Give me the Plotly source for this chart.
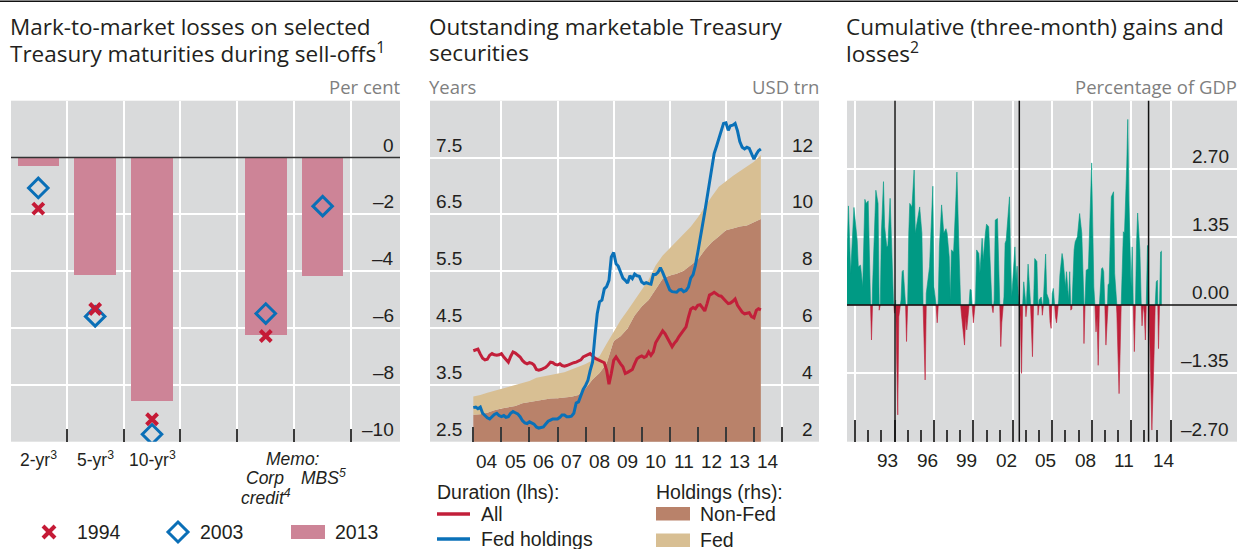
import numpy as np
import pandas as pd
import plotly.graph_objects as go

W, H = 1238, 549

# ---------------- Panel 1: mark-to-market losses ----------------
p1_categories = ["2-yr", "5-yr", "10-yr", "blank1", "Corp credit", "MBS", "blank2"]
p1_bar_cats = ["2-yr", "5-yr", "10-yr", "Corp credit", "MBS"]
p1_2013 = [-0.27, -4.12, -8.55, -6.24, -4.15]
p1_1994 = [-1.80, -5.33, -9.21, -6.28, None]
p1_2003 = [-1.07, -5.59, -9.74, -5.49, -1.71]
p1_yticks = [0, -2, -4, -6, -8, -10]
p1_yticktext = ["0", "–2", "–4", "–6", "–8", "–10"]

# ---------------- Panel 2: outstanding marketable Treasuries ----------------
p2_start_month = "2004-01-01"
p2_dur_all = [4.10, 4.12, 4.13, 4.04, 3.97, 3.94, 3.95, 4.02, 4.05, 4.03, 4.02, 4.03,
              4.05, 3.99, 3.94, 3.90, 4.00, 4.08, 4.06, 4.03, 3.99, 3.93, 3.89, 3.87,
              3.89, 3.88, 3.85, 3.77, 3.76, 3.77, 3.79, 3.81, 3.85, 3.90, 3.89, 3.86,
              3.85, 3.87, 3.84, 3.83, 3.84, 3.86, 3.87, 3.89, 3.90, 3.92, 3.94, 3.99,
              4.01, 4.03, 4.05, 4.01, 3.97, 3.95, 3.93, 3.92, 3.89, 3.76, 3.51, 3.70,
              3.93, 3.99, 3.92, 3.87, 3.82, 3.70, 3.72, 3.75, 3.77, 3.87, 3.96, 3.99,
              4.01, 3.98, 4.00, 4.08, 4.02, 4.08, 4.24, 4.31, 4.39, 4.45, 4.40, 4.33,
              4.25, 4.17, 4.23, 4.28, 4.35, 4.41, 4.47, 4.52, 4.69, 4.83, 4.86, 4.84,
              4.90, 4.91, 4.86, 4.80, 4.93, 5.08, 5.10, 5.13, 5.10, 5.07, 5.06, 5.01,
              4.97, 4.93, 4.94, 4.97, 5.01, 4.90, 4.83, 4.78, 4.75, 4.76, 4.77, 4.70,
              4.68, 4.81, 4.84, 4.82]
p2_dur_fed = [3.10, 3.11, 3.08, 3.11, 3.00, 2.95, 2.92, 2.90, 2.95, 2.98, 3.00, 2.96,
              2.94, 2.96, 2.93, 2.94, 3.00, 3.03, 3.01, 2.99, 2.94, 2.87, 2.83, 2.82,
              2.85, 2.83, 2.81, 2.76, 2.74, 2.75, 2.76, 2.81, 2.86, 2.88, 2.90, 2.90,
              2.90, 2.93, 2.97, 2.97, 2.94, 2.94, 2.95, 3.00, 3.18, 3.20, 3.32, 3.42,
              3.49, 3.58, 3.75, 3.90, 4.34, 4.75, 4.96, 4.99, 5.19, 5.23, 5.34, 5.75,
              5.83, 5.63, 5.59, 5.48, 5.38, 5.34, 5.29, 5.42, 5.37, 5.45, 5.42, 5.41,
              5.31, 5.28, 5.30, 5.28, 5.27, 5.44, 5.44, 5.48, 5.56, 5.48, 5.37, 5.27,
              5.17, 5.14, 5.13, 5.13, 5.17, 5.18, 5.14, 5.16, 5.22, 5.38, 5.44, 5.60,
              5.83, 6.04, 6.30, 6.54, 6.80, 7.04, 7.31, 7.57, 7.70, 7.82, 7.94, 8.10,
              8.11, 7.98, 8.06, 8.07, 8.10, 7.97, 7.78, 7.68, 7.65, 7.68, 7.66, 7.56,
              7.47, 7.56, 7.62, 7.65]
p2_hold_nonfed = [2.95, 2.97, 3.02, 3.11, 3.17, 3.22, 3.26, 3.35, 3.39, 3.45, 3.49, 3.52,
                  3.53, 3.56, 3.58, 3.64, 3.87, 4.19, 4.42, 4.75, 5.54, 5.71, 5.98, 6.44,
                  6.76, 6.99, 7.38, 7.73, 7.85, 7.91, 8.02, 8.20, 8.40, 8.75, 9.02, 9.22,
                  9.44, 9.50, 9.57, 9.61, 9.72, 9.84]
p2_hold_fed = [0.64, 0.67, 0.70, 0.68, 0.70, 0.71, 0.74, 0.72, 0.75, 0.80, 0.81, 0.83,
               0.87, 0.88, 0.96, 0.99, 0.86, 0.68, 0.59, 0.70, 0.35, 0.56, 0.64, 0.53,
               0.56, 0.71, 0.82, 0.82, 0.96, 1.14, 1.29, 1.36, 1.49, 1.53, 1.61, 1.75,
               1.73, 1.85, 1.95, 2.06, 2.13, 2.25]
p2_lhs_ticks = [2.5, 3.5, 4.5, 5.5, 6.5, 7.5]
p2_lhs_text = ["2.5", "3.5", "4.5", "5.5", "6.5", "7.5"]
p2_rhs_ticks = [2, 4, 6, 8, 10, 12]
p2_rhs_text = ["2", "4", "6", "8", "10", "12"]
p2_xlabel_years = list(range(2004, 2015))
p2_xlabel_text = ["04", "05", "06", "07", "08", "09", "10", "11", "12", "13", "14"]

# ---------------- Panel 3: cumulative gains and losses ----------------
p3_dates = ["1990-05", "1990-07", "1990-09", "1990-12", "1991-03", "1991-04", "1991-06", "1991-07",
            "1991-08", "1991-10", "1991-11", "1992-01", "1992-02", "1992-04", "1992-05", "1992-07",
            "1992-08", "1992-10", "1992-11", "1992-12", "1993-01", "1993-03", "1993-04", "1993-06",
            "1993-07", "1993-09", "1993-10", "1993-12", "1994-01", "1994-02", "1994-04", "1994-05",
            "1994-07", "1994-08", "1994-09", "1994-11", "1994-12", "1995-01", "1995-02", "1995-03",
            "1995-05", "1995-07", "1995-08", "1995-10", "1995-12", "1996-02", "1996-03", "1996-05",
            "1996-06", "1996-08", "1996-09", "1996-12", "1997-01", "1997-03", "1997-04", "1997-05",
            "1997-06", "1997-08", "1997-10", "1997-12", "1998-01", "1998-03", "1998-04", "1998-05",
            "1998-07", "1998-09", "1998-10", "1998-12", "1999-01", "1999-02", "1999-04", "1999-05",
            "1999-06", "1999-07", "1999-09", "1999-10", "1999-11", "1999-12", "2000-01", "2000-03",
            "2000-04", "2000-06", "2000-07", "2000-09", "2000-10", "2000-12", "2001-01", "2001-03",
            "2001-04", "2001-06", "2001-07", "2001-08", "2001-09", "2001-11", "2002-01", "2002-02",
            "2002-03", "2002-05", "2002-06", "2002-07", "2002-10", "2002-11", "2002-12", "2003-01",
            "2003-03", "2003-04", "2003-05", "2003-06", "2003-08", "2003-09", "2003-10", "2003-11",
            "2003-12", "2004-01", "2004-02", "2004-03", "2004-05", "2004-06", "2004-07", "2004-08",
            "2004-09", "2004-11", "2004-12", "2005-01", "2005-03", "2005-04", "2005-05", "2005-07",
            "2005-08", "2005-10", "2005-11", "2005-12", "2006-01", "2006-02", "2006-04", "2006-05",
            "2006-07", "2006-08", "2006-10", "2006-11", "2007-01", "2007-02", "2007-04", "2007-05",
            "2007-06", "2007-07", "2007-09", "2007-10", "2007-12", "2008-02", "2008-04", "2008-05",
            "2008-06", "2008-07", "2008-08", "2008-10", "2008-11", "2009-01", "2009-03", "2009-04",
            "2009-05", "2009-06", "2009-07", "2009-08", "2009-10", "2009-11", "2009-12", "2010-01",
            "2010-02", "2010-03", "2010-04", "2010-05", "2010-07", "2010-09", "2010-10", "2010-12",
            "2011-01", "2011-02", "2011-03", "2011-04", "2011-06", "2011-07", "2011-09", "2011-10",
            "2011-11", "2012-01", "2012-02", "2012-03", "2012-04", "2012-05", "2012-06", "2012-07",
            "2012-09", "2012-10", "2012-11", "2012-12", "2013-01", "2013-02", "2013-03", "2013-04",
            "2013-06", "2013-07", "2013-08", "2013-10", "2013-11", "2013-12", "2014-01", "2014-02",
            "2014-03", "2014-04", "2014-05"]
p3_values = [0.36, 1.96, 0.63, 1.93, 1.28, 0.76, 0.79, 0.49,
             0.36, 2.09, 2.01, 2.06, 0.89, -0.69, 0.36, 1.42,
             2.27, 2.01, -0.10, -0.03, 1.42, 2.44, 1.55, 1.15,
             1.18, 2.11, 1.28, 0.10, -0.16, 0.10, -2.17, -0.23,
             0.10, 0.66, 0.69, 0.10, -0.72, -0.03, 1.42, 2.01,
             1.94, 2.67, 1.42, 1.68, 1.94, 1.42, 0.10, -1.48,
             0.23, 0.56, 0.76, 2.35, 0.36, 0.00, -0.35, 0.10,
             1.15, 1.98, 1.42, 1.51, 1.42, 0.95, 0.10, 1.09,
             1.05, 2.07, 2.63, 1.02, 0.10, -0.16, -0.69, -0.79,
             -0.23, -0.49, -0.03, 0.31, 0.30, -0.03, -0.35, 0.10,
             1.09, 1.02, 0.63, 1.32, 0.89, 1.42, 1.60, 1.55,
             0.95, -0.03, -0.15, 0.10, 1.68, 1.71, 0.10, -0.82,
             -0.35, 0.16, 1.22, 1.28, 2.14, 0.89, 0.16, 0.49,
             1.15, 0.49, 0.77, 0.23, -0.30, -1.35, -0.03, 0.46,
             0.23, -0.23, 0.36, 0.81, 0.10, -0.43, -1.02, 0.03,
             0.92, 0.86, -0.20, 0.10, 0.16, -0.20, 0.10, 1.01,
             0.23, 0.10, -0.33, -0.46, 0.23, 0.33, -0.23, -0.35,
             0.10, 0.59, 1.02, 0.89, 0.36, 0.66, 0.10, 0.66,
             -0.10, -0.07, 1.09, 1.25, 1.35, 1.81, 1.42, 0.76,
             -0.76, 0.10, 0.69, 0.72, 1.42, 2.81, 0.36, 0.00,
             -0.53, -0.23, -1.19, -0.03, 0.72, 0.74, 0.66, 0.00,
             -0.79, -0.43, 0.40, 0.43, 2.14, 2.24, 0.63, -0.16,
             -0.92, -1.75, -0.95, 0.00, 1.45, 1.42, 2.73, 3.67,
             2.07, 0.36, 1.15, 0.00, -0.92, 0.00, 1.22, 1.82,
             1.09, 0.16, -0.41, 0.00, -0.16, -0.69, 0.10, 1.18,
             -0.56, -1.48, -2.47, -0.95, 0.00, 0.46, 0.49, -0.86,
             0.00, 1.05, 1.07]
p3_selloffs = ["1994-01-15", "2003-07-01", "2013-05-01"]
p3_yticks = [2.70, 1.35, 0.00, -1.35, -2.70]
p3_yticktext = ["2.70", "1.35", "0.00", "–1.35", "–2.70"]
p3_xlabel_years = [1993, 1996, 1999, 2002, 2005, 2008, 2011, 2014]
p3_xlabel_text = ["93", "96", "99", "02", "05", "08", "11", "14"]

# ---------------- styling ----------------
BG = "#D9DADB"
TXT = "#231F20"
GREY_TXT = "#7F7F7F"
PINK = "#CD8497"
RED_X = "#C51A36"
BLUE_D = "#0A6FB7"
RED_LINE = "#C21F3A"
BLUE_LINE = "#0A71B8"
BROWN = "#B9826A"
TAN = "#D8BF93"
GREEN = "#009A84"
RED_AREA = "#BE1E38"
TICKC = "#3A3A3A"

TITLE_FONT = dict(family="Open Sans", size=22.5, color=TXT)
UNIT_FONT = dict(family="Open Sans", size=18.5, color=GREY_TXT)
NUM_FONT = dict(family="Liberation Sans", size=19, color=TXT)
LEG_FONT = dict(family="Liberation Sans", size=19.5, color=TXT)


def px(x):
    return x / W


def py(y):
    return 1 - y / H


YDOM = [py(441.7), py(100.7)]

fig = go.Figure()

# Panel 1 traces
fig.add_trace(go.Bar(x=p1_bar_cats, y=p1_2013, width=0.73, marker=dict(color=PINK, line=dict(width=0)),
                     xaxis="x", yaxis="y", showlegend=False))
fig.add_trace(go.Scatter(x=p1_bar_cats, y=p1_2003, mode="markers", xaxis="x", yaxis="y",
                         marker=dict(symbol="diamond-open", size=15, color=BLUE_D, line=dict(width=3, color=BLUE_D)),
                         showlegend=False))
fig.add_trace(go.Scatter(x=p1_bar_cats, y=p1_1994, mode="markers", xaxis="x", yaxis="y",
                         marker=dict(symbol="x-thin", size=11, color=RED_X, line=dict(width=4, color=RED_X)),
                         showlegend=False))

# Panel 2 traces
m_dates = pd.date_range(p2_start_month, periods=len(p2_dur_all), freq="MS")
q_dates = pd.date_range(p2_start_month, periods=len(p2_hold_nonfed), freq="QS")
fig.add_trace(go.Scatter(x=q_dates, y=p2_hold_nonfed, mode="lines", stackgroup="hold",
                         line=dict(width=0, color=BROWN), fillcolor=BROWN, xaxis="x2", yaxis="y2",
                         showlegend=False))
fig.add_trace(go.Scatter(x=q_dates, y=p2_hold_fed, mode="lines", stackgroup="hold",
                         line=dict(width=0, color=TAN), fillcolor=TAN, xaxis="x2", yaxis="y2",
                         showlegend=False))
fig.add_trace(go.Scatter(x=m_dates, y=p2_dur_all, mode="lines", line=dict(width=3, color=RED_LINE),
                         xaxis="x2", yaxis="y3", showlegend=False))
fig.add_trace(go.Scatter(x=m_dates, y=p2_dur_fed, mode="lines", line=dict(width=3, color=BLUE_LINE),
                         xaxis="x2", yaxis="y3", showlegend=False))

# Panel 3 traces: split into positive / negative parts at zero crossings
t = pd.to_datetime(p3_dates).values.astype("datetime64[s]").astype(np.int64)
v = np.array(p3_values, dtype=float)
xs, ys = [t[0]], [v[0]]
for i in range(1, len(v)):
    if v[i - 1] * v[i] < 0:
        tc = t[i - 1] + (t[i] - t[i - 1]) * (v[i - 1] / (v[i - 1] - v[i]))
        xs.append(int(tc))
        ys.append(0.0)
    xs.append(t[i])
    ys.append(v[i])
xs = pd.to_datetime(np.array(xs, dtype=np.int64), unit="s")
ys = np.array(ys)
pos = np.where(ys > 0, ys, 0.0)
neg = np.where(ys < 0, ys, 0.0)
fig.add_trace(go.Scatter(x=xs, y=pos, mode="lines", fill="tozeroy", fillcolor=GREEN,
                         line=dict(width=0.6, color=GREEN), xaxis="x3", yaxis="y4", showlegend=False))
fig.add_trace(go.Scatter(x=xs, y=neg, mode="lines", fill="tozeroy", fillcolor=RED_AREA,
                         line=dict(width=0.6, color=RED_AREA), xaxis="x3", yaxis="y4", showlegend=False))

# ---------------- axes ----------------
grid = dict(showgrid=True, gridcolor="white", gridwidth=1.5, zeroline=False, showline=False,
            showticklabels=False, fixedrange=True)

fig.update_layout(
    xaxis=dict(domain=[px(11), px(400)], anchor="y", type="category", categoryorder="array",
               categoryarray=p1_categories, range=[-0.48, 6.36], tickson="boundaries",
               ticks="inside", ticklen=13, tickwidth=1.5, tickcolor=TICKC, **grid),
    yaxis=dict(domain=YDOM, anchor="x", range=[-10, 2], tickvals=[-8, -6, -4, -2], ticks="", **grid),
    xaxis2=dict(domain=[px(430), px(819)], anchor="y2", type="date",
                range=["2002-06-16", "2016-04-27"],
                tickvals=["%d-01-01" % y for y in [2005, 2007, 2009, 2011, 2013, 2015]],
                ticks="inside", ticklen=15, tickwidth=1.5, tickcolor=TICKC,
                minor=dict(tickvals=["%d-01-01" % y for y in range(2004, 2016)], ticks="inside",
                           ticklen=15, tickwidth=1.5, tickcolor=TICKC, showgrid=False),
                **grid),
    yaxis2=dict(domain=YDOM, anchor="x2", range=[2, 14], tickvals=[4, 6, 8, 10, 12], ticks="", **grid),
    yaxis3=dict(domain=YDOM, anchor="x2", overlaying="y2", range=[2.5, 8.5], showgrid=False,
                zeroline=False, showticklabels=False, ticks="", fixedrange=True),
    xaxis3=dict(domain=[px(847), px(1237)], anchor="y4", type="date",
                range=["1990-05-22", "2020-01-22"],
                tickvals=["%d-01-01" % y for y in range(1991, 2016, 3)],
                ticks="inside", ticklen=22, tickwidth=1.5, tickcolor=TICKC,
                minor=dict(tickvals=["%d-01-01" % y for y in range(1991, 2016)], ticks="inside",
                           ticklen=12, tickwidth=1.5, tickcolor=TICKC, showgrid=False),
                **grid),
    yaxis4=dict(domain=YDOM, anchor="x3", range=[-2.70, 4.04], tickvals=[-1.35, 1.35, 2.70], ticks="", **grid),
)

# ---------------- shapes ----------------
shapes = []
# top rule
shapes.append(dict(type="line", xref="paper", yref="paper", x0=0, x1=1, y0=py(1.2), y1=py(1.2),
                   line=dict(color="#111111", width=1.6)))
# zero lines
shapes.append(dict(type="line", xref="x domain", yref="y", x0=0, x1=1, y0=0, y1=0,
                   line=dict(color="#333333", width=1.5), layer="above"))
shapes.append(dict(type="line", xref="x3 domain", yref="y4", x0=0, x1=1, y0=0, y1=0,
                   line=dict(color="#111111", width=1.5), layer="above"))
# sell-off markers
for d in p3_selloffs:
    shapes.append(dict(type="line", xref="x3", yref="y4 domain", x0=d, x1=d, y0=0, y1=1,
                       line=dict(color="#111111", width=1.5), layer="above"))

# legend symbols panel 1
cx, cy, r = 49, 532, 6
shapes.append(dict(type="line", xref="paper", yref="paper", x0=px(cx - r), y0=py(cy - r),
                   x1=px(cx + r), y1=py(cy + r), line=dict(color=RED_X, width=4)))
shapes.append(dict(type="line", xref="paper", yref="paper", x0=px(cx - r), y0=py(cy + r),
                   x1=px(cx + r), y1=py(cy - r), line=dict(color=RED_X, width=4)))
dx, dy, dr = 178, 532, 10
shapes.append(dict(type="path", xref="paper", yref="paper",
                   path="M %f,%f L %f,%f L %f,%f L %f,%f Z" % (px(dx), py(dy - dr), px(dx + dr), py(dy),
                                                              px(dx), py(dy + dr), px(dx - dr), py(dy)),
                   line=dict(color=BLUE_D, width=3)))
shapes.append(dict(type="rect", xref="paper", yref="paper", x0=px(291), x1=px(325), y0=py(539), y1=py(525),
                   fillcolor=PINK, line=dict(width=0)))
# legend symbols panel 2
shapes.append(dict(type="line", xref="paper", yref="paper", x0=px(437), x1=px(470), y0=py(514), y1=py(514),
                   line=dict(color=RED_LINE, width=3.5)))
shapes.append(dict(type="line", xref="paper", yref="paper", x0=px(437), x1=px(470), y0=py(539), y1=py(539),
                   line=dict(color=BLUE_LINE, width=3.5)))
shapes.append(dict(type="rect", xref="paper", yref="paper", x0=px(656), x1=px(690), y0=py(520.5), y1=py(507),
                   fillcolor=BROWN, line=dict(width=0)))
shapes.append(dict(type="rect", xref="paper", yref="paper", x0=px(656), x1=px(690), y0=py(547), y1=py(533.5),
                   fillcolor=TAN, line=dict(width=0)))
fig.update_layout(shapes=shapes)

# ---------------- annotations ----------------
ann = []


def text(x, y, s, font, xanchor="left", yanchor="middle", xref="paper", yref="paper", **kw):
    ann.append(dict(x=x, y=y, text=s, font=font, xanchor=xanchor, yanchor=yanchor, xref=xref, yref=yref,
                    showarrow=False, borderpad=0, **kw))


# titles
text(px(9), py(26), "Mark-to-market losses on selected", TITLE_FONT)
text(px(9), py(52), "Treasury maturities during sell-offs<sup>1</sup>", TITLE_FONT)
text(px(428), py(26), "Outstanding marketable Treasury", TITLE_FONT)
text(px(428), py(52), "securities", TITLE_FONT)
text(px(845), py(26), "Cumulative (three-month) gains and", TITLE_FONT)
text(px(845), py(52), "losses<sup>2</sup>", TITLE_FONT)
# units
text(px(401), py(87), "Per cent", UNIT_FONT, xanchor="right")
text(px(428), py(87), "Years", UNIT_FONT)
text(px(820), py(87), "USD trn", UNIT_FONT, xanchor="right")
text(px(1238), py(87), "Percentage of GDP", UNIT_FONT, xanchor="right")

# y labels
for val, s in zip(p1_yticks, p1_yticktext):
    text(1, val, s, NUM_FONT, xanchor="right", yanchor="bottom", xref="x domain", yref="y", xshift=-5, yshift=1)
for val, s in zip(p2_lhs_ticks, p2_lhs_text):
    text(0, val, s, NUM_FONT, xanchor="left", yanchor="bottom", xref="x2 domain", yref="y3", xshift=5, yshift=1)
for val, s in zip(p2_rhs_ticks, p2_rhs_text):
    text(1, val, s, NUM_FONT, xanchor="right", yanchor="bottom", xref="x2 domain", yref="y2", xshift=-5, yshift=1)
for val, s in zip(p3_yticks, p3_yticktext):
    text(1, val, s, NUM_FONT, xanchor="right", yanchor="bottom", xref="x3 domain", yref="y4", xshift=-7, yshift=1)

# x labels
for yr, s in zip(p2_xlabel_years, p2_xlabel_text):
    text("%d-07-01" % yr, py(461.7), s, NUM_FONT, xanchor="center", xref="x2")
for yr, s in zip(p3_xlabel_years, p3_xlabel_text):
    text("%d-07-01" % yr, py(460), s, NUM_FONT, xanchor="center", xref="x3")

CAT_FONT = dict(family="Liberation Sans", size=17.5, color=TXT)
text(0, py(459), "2-yr<sup>3</sup>", CAT_FONT, xanchor="center", xref="x")
text(1, py(459), "5-yr<sup>3</sup>", CAT_FONT, xanchor="center", xref="x")
text(2, py(459), "10-yr<sup>3</sup>", CAT_FONT, xanchor="center", xref="x")
text(4.47, py(459), "<i>Memo:</i>", CAT_FONT, xanchor="center", xref="x")
text(3.98, py(477.5), "<i>Corp</i>", CAT_FONT, xanchor="center", xref="x")
text(4.01, py(496.5), "<i>credit<sup>4</sup></i>", CAT_FONT, xanchor="center", xref="x")
text(5.01, py(477), "<i>MBS<sup>5</sup></i>", CAT_FONT, xanchor="center", xref="x")

# legends
text(px(76), py(532), "1994", LEG_FONT)
text(px(199), py(532), "2003", LEG_FONT)
text(px(334), py(532), "2013", LEG_FONT)
text(px(436), py(491.5), "Duration (lhs):", LEG_FONT)
text(px(480), py(514), "All", LEG_FONT)
text(px(480), py(539), "Fed holdings", LEG_FONT)
text(px(655), py(491.5), "Holdings (rhs):", LEG_FONT)
text(px(699), py(514), "Non-Fed", LEG_FONT)
text(px(699), py(539.5), "Fed", LEG_FONT)

fig.update_layout(
    annotations=ann,
    width=W, height=H,
    margin=dict(l=0, r=0, t=0, b=0),
    paper_bgcolor="white",
    plot_bgcolor=BG,
    showlegend=False,
    bargap=0,
)

fig.write_html("out.html", config={"displayModeBar": False},
               post_script="document.body.style.margin='0px';document.body.style.overflow='hidden';")
